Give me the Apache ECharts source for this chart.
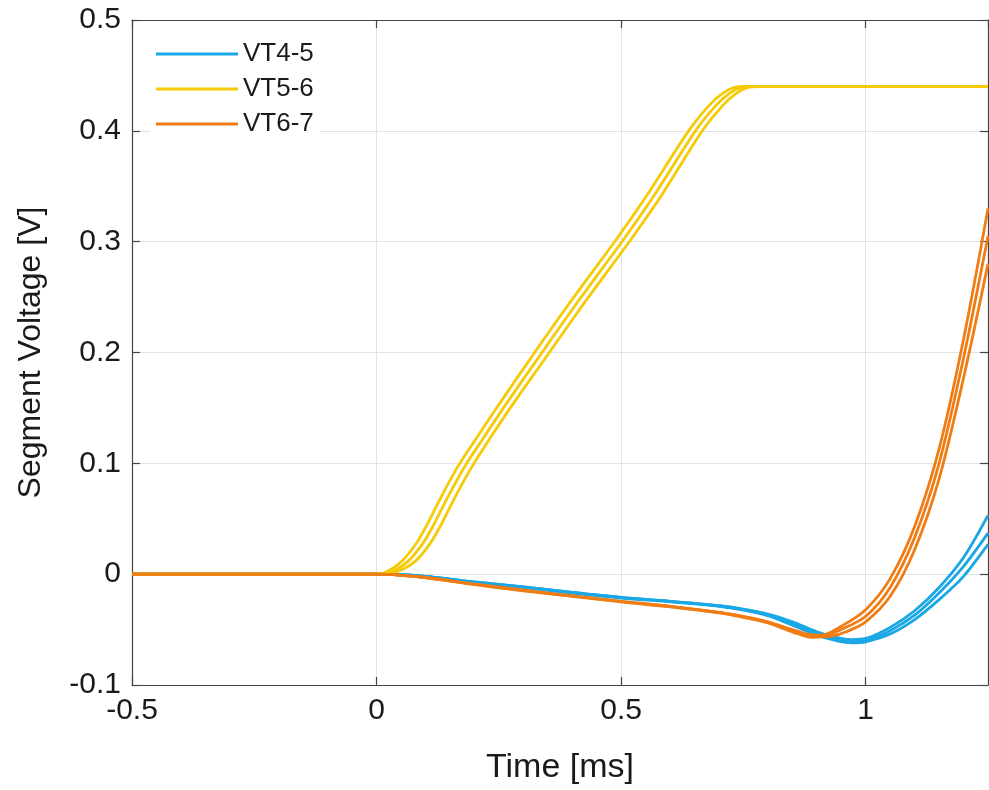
<!DOCTYPE html>
<html>
<head>
<meta charset="utf-8">
<script src="https://cdn.jsdelivr.net/npm/echarts@6/dist/echarts.min.js"></script>
<style>
  html, body { margin: 0; padding: 0; background: #fff; }
  #chart { width: 989px; height: 790px; }
</style>
</head>
<body>
<div id="chart"></div>
<script>
// series names (legend)
const names = ['VT4-5', 'VT5-6', 'VT6-7'];
const colors = ['#1aa7e6', '#f6ca06', '#f07d14'];

// x tick values / y tick values
const xTicks = [-0.5, 0, 0.5, 1];
const yTicks = [-0.1, 0, 0.1, 0.2, 0.3, 0.4, 0.5];

// VT4-5 : three runs  [time ms, voltage V]
const blueA = [[-0.5,0],[0,0],[0.05,-0.0005],[0.1,-0.002],[0.2,-0.007],[0.3,-0.0115],[0.4,-0.0165],[0.5,-0.021],[0.6,-0.0245],[0.7,-0.0285],[0.75,-0.0315],[0.8,-0.036],[0.85,-0.043],[0.9,-0.052],[0.94,-0.057],[0.97,-0.059],[1.0,-0.058],[1.05,-0.048],[1.1,-0.033],[1.15,-0.012],[1.2,0.015],[1.25,0.053]];
const blueB = [[-0.5,0],[0,0],[0.05,-0.0005],[0.1,-0.002],[0.2,-0.007],[0.3,-0.0115],[0.4,-0.0165],[0.5,-0.021],[0.6,-0.0245],[0.7,-0.0285],[0.75,-0.032],[0.8,-0.037],[0.85,-0.045],[0.9,-0.054],[0.94,-0.059],[0.97,-0.061],[1.0,-0.06],[1.05,-0.051],[1.1,-0.037],[1.15,-0.017],[1.2,0.007],[1.25,0.037]];
const blueC = [[-0.5,0],[0,0],[0.05,-0.0005],[0.1,-0.002],[0.2,-0.0075],[0.3,-0.012],[0.4,-0.017],[0.5,-0.0215],[0.6,-0.025],[0.7,-0.029],[0.75,-0.0325],[0.8,-0.0375],[0.85,-0.046],[0.9,-0.055],[0.94,-0.06],[0.97,-0.062],[1.0,-0.061],[1.05,-0.054],[1.1,-0.041],[1.15,-0.023],[1.2,-0.002],[1.25,0.027]];

// VT5-6 : three runs
const yellowA = [[-0.5,0],[0,0],[0.02,0.002],[0.05,0.011],[0.08,0.027],[0.1,0.042],[0.13,0.068],[0.166,0.097],[0.2,0.12],[0.25,0.153],[0.32,0.198],[0.4,0.248],[0.49,0.302],[0.55,0.34],[0.638,0.4],[0.68,0.423],[0.708,0.434],[0.73,0.439],[0.755,0.44],[1.25,0.44]];
const yellowB = [[-0.5,0],[0,0],[0.03,0.002],[0.065,0.012],[0.095,0.028],[0.115,0.043],[0.145,0.069],[0.18,0.097],[0.214,0.12],[0.264,0.153],[0.335,0.198],[0.415,0.248],[0.505,0.302],[0.565,0.34],[0.652,0.4],[0.694,0.423],[0.722,0.434],[0.744,0.439],[0.77,0.44],[1.25,0.44]];
const yellowC = [[-0.5,0],[0,0],[0.04,0.002],[0.08,0.012],[0.11,0.028],[0.13,0.043],[0.16,0.069],[0.195,0.097],[0.228,0.12],[0.278,0.153],[0.35,0.198],[0.43,0.248],[0.52,0.302],[0.58,0.34],[0.666,0.4],[0.708,0.423],[0.736,0.434],[0.758,0.439],[0.785,0.44],[1.25,0.44]];

// VT6-7 : three runs
const orangeA = [[-0.5,0],[0,0],[0.05,-0.001],[0.1,-0.003],[0.2,-0.009],[0.3,-0.0145],[0.4,-0.0195],[0.5,-0.0245],[0.6,-0.029],[0.7,-0.0345],[0.75,-0.038],[0.8,-0.043],[0.85,-0.05],[0.88,-0.054],[0.91,-0.055],[0.95,-0.047],[1.0,-0.032],[1.05,-0.004],[1.1,0.043],[1.15,0.113],[1.2,0.212],[1.25,0.33]];
const orangeB = [[-0.5,0],[0,0],[0.05,-0.001],[0.1,-0.003],[0.2,-0.009],[0.3,-0.0145],[0.4,-0.0195],[0.5,-0.0245],[0.6,-0.029],[0.7,-0.0345],[0.75,-0.0385],[0.8,-0.0435],[0.85,-0.051],[0.89,-0.056],[0.92,-0.055],[0.95,-0.05],[1.0,-0.038],[1.05,-0.012],[1.1,0.033],[1.15,0.1],[1.2,0.195],[1.25,0.305]];
const orangeC = [[-0.5,0],[0,0],[0.05,-0.001],[0.1,-0.003],[0.2,-0.0095],[0.3,-0.015],[0.4,-0.02],[0.5,-0.025],[0.6,-0.0295],[0.7,-0.035],[0.75,-0.039],[0.8,-0.044],[0.85,-0.052],[0.89,-0.057],[0.93,-0.056],[0.96,-0.052],[1.0,-0.043],[1.05,-0.02],[1.1,0.022],[1.15,0.086],[1.2,0.177],[1.25,0.28]];

const runs = [
  [names[0], colors[0], [blueA, blueB, blueC]],
  [names[1], colors[1], [yellowA, yellowB, yellowC]],
  [names[2], colors[2], [orangeA, orangeB, orangeC]]
];

const font = 'Liberation Sans, Arial, Helvetica, sans-serif';

const series = [];
runs.forEach(([name, color, lines]) => {
  lines.forEach(data => {
    series.push({
      name: name,
      type: 'line',
      data: data,
      smooth: 0.3,
      symbol: 'none',
      clip: true,
      lineStyle: { color: color, width: 2.8 },
      itemStyle: { color: color }
    });
  });
});

const chart = echarts.init(document.getElementById('chart'));

const gridLine = { show: true, lineStyle: { color: '#e2e2e2', width: 1 } };
const axisLine = { show: true, onZero: false, lineStyle: { color: '#444', width: 1.2 } };
const tick = { show: true, inside: true, length: 8, lineStyle: { color: '#444', width: 1.2 } };

chart.setOption({
  animation: false,
  backgroundColor: '#fff',
  grid: { left: 132, right: 1, top: 20, bottom: 102 },
  legend: {
    data: names,
    icon: 'rect',
    left: 150,
    top: 33,
    orient: 'vertical',
    backgroundColor: '#fff',
    padding: [8, 6, 8, 6],
    itemWidth: 82,
    itemHeight: 3,
    itemGap: 9,
    textStyle: { fontFamily: font, fontSize: 26, color: '#1a1a1a' }
  },
  xAxis: [
    {
      type: 'value', min: -0.5, max: 1.25, interval: 0.5,
      name: 'Time [ms]', nameLocation: 'middle', nameGap: 66,
      nameTextStyle: { fontFamily: font, fontSize: 34, color: '#1a1a1a' },
      axisLine: axisLine, axisTick: tick, splitLine: gridLine,
      axisLabel: { fontFamily: font, fontSize: 30, color: '#1a1a1a', margin: 11,
        showMaxLabel: false }
    },
    {
      type: 'value', position: 'top', min: -0.5, max: 1.25, interval: 0.5,
      axisLine: axisLine, axisTick: tick, splitLine: { show: false },
      axisLabel: { show: false }
    }
  ],
  yAxis: [
    {
      type: 'value', min: -0.1, max: 0.5, interval: 0.1,
      name: 'Segment Voltage [V]', nameLocation: 'middle', nameGap: 85,
      nameTextStyle: { fontFamily: font, fontSize: 32, color: '#1a1a1a' },
      axisLine: axisLine, axisTick: tick, splitLine: gridLine,
      axisLabel: { fontFamily: font, fontSize: 30, color: '#1a1a1a', margin: 11,
        formatter: v => String(Math.round(v * 10) / 10) }
    },
    {
      type: 'value', position: 'right', min: -0.1, max: 0.5, interval: 0.1,
      axisLine: axisLine, axisTick: tick, splitLine: { show: false },
      axisLabel: { show: false }
    }
  ],
  series: series
});
</script>
</body>
</html>
